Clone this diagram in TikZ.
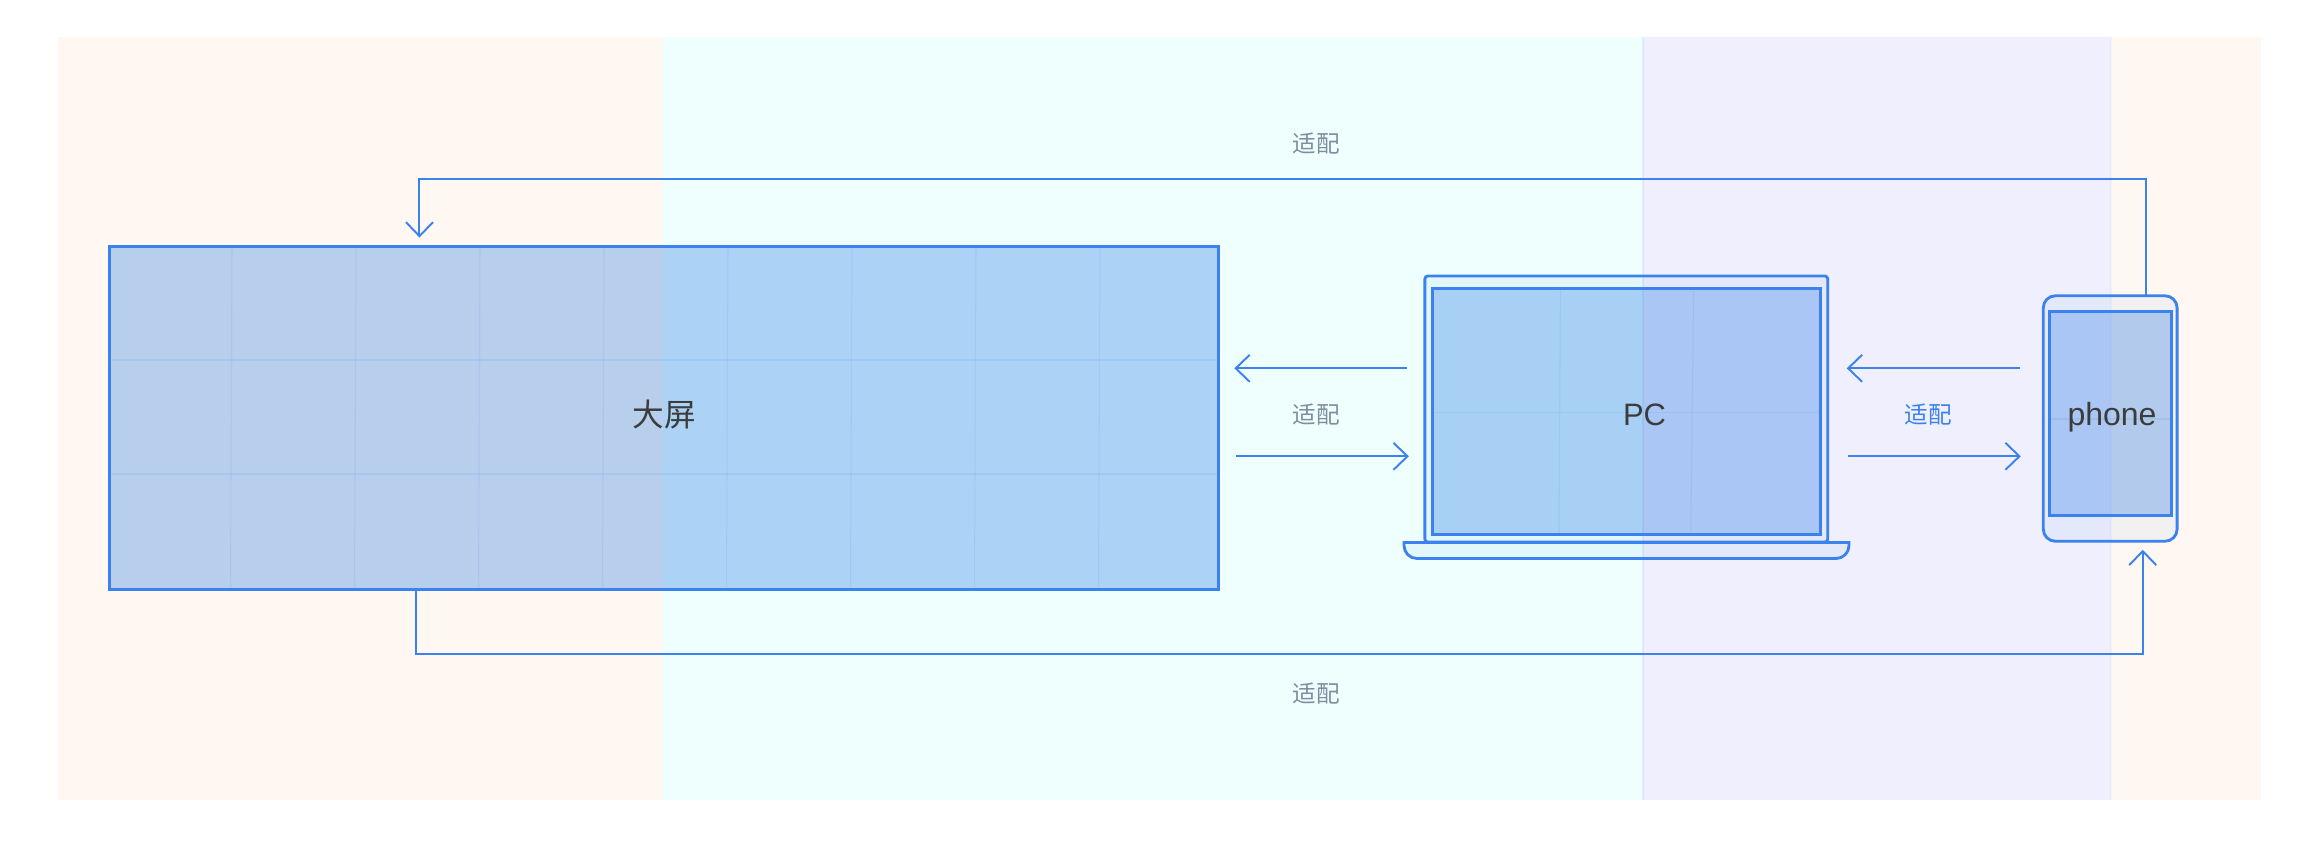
\documentclass[tikz,border=0pt]{standalone}
\usepackage{fontspec}
\setmainfont{Liberation Sans}
\newfontfamily\cjk{Noto Sans CJK SC}
\usetikzlibrary{arrows.meta}

\definecolor{creambg}{HTML}{FFF7F1}
\definecolor{tealbg}{HTML}{EEFFFE}
\definecolor{lavbg}{HTML}{F0EFFD}
\definecolor{blueline}{HTML}{3B82EE}
\definecolor{bluefill}{HTML}{3182E6}
\definecolor{greytext}{HTML}{7F8D9F}
\definecolor{darktext}{HTML}{3C3C3C}

\tikzset{
    panel/.style={rectangle, inner sep=0pt, outer sep=0pt, draw=blueline, line width=0.85pt, fill=bluefill, fill opacity=.35},
    bezel/.style={draw=blueline, line width=0.8pt, fill=bluefill, fill opacity=.06},
    gridline/.style={draw=bluefill, draw opacity=.1, line width=0.3pt},
    flow/.style={draw=blueline, line width=0.55pt, -{Straight Barb[length=1.4mm,width=2.7mm]}},
    seam/.style={draw=bluefill, draw opacity=.1, line width=0.3pt},
    devicename/.style={inner sep=0pt, text=darktext, font=\fontsize{8.8}{10}\selectfont},
    fitlabel/.style={inner sep=0pt, text=greytext, font=\cjk\fontsize{6.7}{8}\selectfont}
}

\begin{document}
\begin{tikzpicture}[x=0.01cm, y=-0.01cm]

    \useasboundingbox (0,0) rectangle (2320,850);

    % Background bands
    \foreach \xa/\xb/\bandcolor in {58/663/creambg, 663/1643/tealbg, 1643/2111/lavbg, 2111/2261/creambg} {
        \fill[\bandcolor] (\xa,37) rectangle (\xb,800);
    }
    \draw[seam] (1643,37) -- (1643,800);
    \draw[seam, draw opacity=.04] (2111,37) -- (2111,800);

    % Big screen
    \node[panel, minimum width=11.09cm, minimum height=3.423cm] (wall) at (664,417.8) {};
    \foreach \x in {230.5,354.5,...,1100} {
        \draw[gridline] (\x+1.5,248) -- (\x,588);
    }
    \foreach \y in {360,474} {
        \draw[gridline] (111,\y) -- (1217,\y);
    }
    \node[devicename, font=\cjk\fontsize{9}{10}\selectfont] (walllabel) at (664,414) {大屏};

    % Laptop
    \node[panel, bezel, rectangle, inner sep=0pt, outer sep=0pt, rounded corners=.03cm, minimum width=4.026cm, minimum height=2.66cm] (pcframe) at (1626.3,409) {};
    \draw[bezel] (1404,542.5) -- (1849,542.5) [rounded corners=.13cm] -- (1849,558.5) -- (1404,558.5) [sharp corners] -- (1404,542.5) -- cycle;
    \node[panel, minimum width=3.872cm, minimum height=2.45cm, fill opacity=.33] (pcscreen) at (1626.4,411.5) {};
    \draw[gridline] (1560.4,290) -- (1559,533);
    \draw[gridline] (1693.6,290) -- (1690.8,533);
    \draw[gridline] (1434,412.3) -- (1819,412.3);
    \node[devicename, anchor=base] (pclabel) at (1644.5,425) {PC};

    % Phone
    \node[panel, bezel, rectangle, inner sep=0pt, outer sep=0pt, rounded corners=.12cm, minimum width=1.337cm, minimum height=2.453cm] (phone) at (2110.2,418.5) {};
    \node[panel, minimum width=1.22cm, minimum height=2.044cm, fill opacity=.33] (phonescreen) at (2110.3,413.5) {};
    \draw[gridline] (2051,419) -- (2170,419);
    \node[devicename, anchor=base, font=\fontsize{9.1}{11}\selectfont] (phonelabel) at (2112,425) {phone};

    % Rows of the short arrows
    \coordinate (rowup) at (0,368.3);
    \coordinate (rowdown) at (0,456.3);

    % Arrows between the devices
    \draw[flow, shorten <=.175cm, shorten >=.155cm] (pcframe.west |- rowup) -- (wall.east |- rowup);
    \draw[flow, shorten <=.17cm, shorten >=.16cm] (wall.east |- rowdown) -- (pcframe.west |- rowdown);
    \draw[flow, shorten <=.233cm, shorten >=.19cm] (phone.west |- rowup) -- (pcframe.east |- rowup);
    \draw[flow, shorten <=.2cm, shorten >=.225cm] (pcframe.east |- rowdown) -- (phone.west |- rowdown);

    % Long arrows round the outside
    \draw[flow, shorten >=.09cm] ([xshift=.358cm]phone.north) -- ++(0,-116.5) -| ([xshift=-2.444cm]wall.north);
    \draw[flow, shorten >=.085cm] ([xshift=-2.475cm]wall.south) -- ++(0,65) -| ([xshift=.325cm]phone.south);

    % Labels
    \node[fitlabel] (fittop) at (1316,143.5) {适配};
    \node[fitlabel] (fitleft) at (1316,415) {适配};
    \node[fitlabel, text=blueline] (fitright) at (1928,415) {适配};
    \node[fitlabel] (fitbottom) at (1316,694) {适配};

\end{tikzpicture}
\end{document}
